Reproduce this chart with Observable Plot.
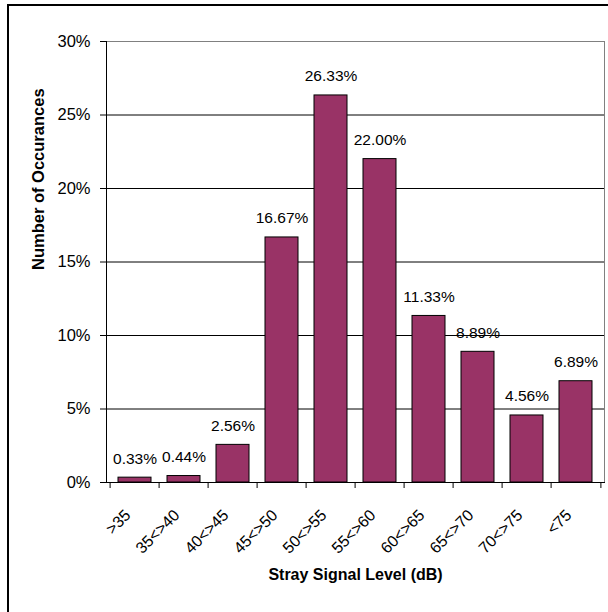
<!DOCTYPE html>
<html>
<head>
<meta charset="utf-8">
<script src="https://cdn.jsdelivr.net/npm/d3@7"></script>
<script src="https://cdn.jsdelivr.net/npm/@observablehq/plot@0.6"></script>
<style>
  html, body { margin: 0; padding: 0; background: #fff; overflow: hidden; }
  #chart { position: absolute; left: 0; top: 0; }
  #outer { position: absolute; left: 7px; top: 4px; width: 700px; height: 700px; border: 2px solid #000; pointer-events: none; }
</style>
</head>
<body>
<div id="chart"></div>
<div id="outer"></div>
<script>
const categories = [">35", "35<>40", "40<>45", "45<>50", "50<>55", "55<>60", "60<>65", "65<>70", "70<>75", "<75"];
const values = [0.33, 0.44, 2.56, 16.67, 26.33, 22.00, 11.33, 8.89, 4.56, 6.89];
const yTicks = [0, 5, 10, 15, 20, 25, 30];
const xTitle = "Stray Signal Level (dB)";
const yTitle = "Number of Occurances";

const data = categories.map((c, i) => ({category: c, value: values[i]}));

const W = 608, H = 612, mL = 106, mR = 4, mT = 41, mB = 130;
const step = (W - mL - mR) / categories.length;
const font = "'Liberation Sans', Arial, sans-serif";

const chart = Plot.plot({
  width: W, height: H,
  marginLeft: mL, marginRight: mR, marginTop: mT, marginBottom: mB,
  style: {fontFamily: font, fontSize: "16px", background: "transparent", color: "#000"},
  x: {domain: categories, paddingInner: 1/3, paddingOuter: 1/6, label: null},
  y: {domain: [0, 30], label: null},
  marks: [
    Plot.ruleY(yTicks.filter(d => d > 0), {stroke: "#000", strokeWidth: 1}),
    Plot.frame({stroke: "#808080"}),
    Plot.barY(data, {x: "category", y: "value", fill: "#993366", stroke: "#000", strokeWidth: 1}),
    Plot.text(data, {x: "category", y: "value", text: d => d.value.toFixed(2) + "%", lineAnchor: "bottom", dy: -14, fontSize: 15.5}),
    Plot.frame({anchor: "left", stroke: "#000"}),
    Plot.frame({anchor: "bottom", stroke: "#000"}),
    Plot.axisY({ticks: yTicks, tickFormat: d => d + "%", tickSize: 6, tickPadding: 10, label: null, fontSize: 16.5}),
    Plot.axisX({tickSize: 6, tickFormat: () => "", dx: -step / 2, label: null}),
    Plot.axisX({ticks: [categories[categories.length - 1]], tickSize: 6, tickFormat: () => "", dx: step / 2, label: null}),
    Plot.axisX({tickSize: 0, tickRotate: -45, tickPadding: 30, dx: -7, fontSize: 16, label: null}),
    Plot.text([xTitle], {frameAnchor: "bottom", dy: 97, text: d => d, fontWeight: "bold", fontSize: 16}),
    Plot.text([yTitle], {frameAnchor: "left", dx: -68, dy: 8, rotate: -90, text: d => d, fontWeight: "bold", fontSize: 16.5})
  ]
});
document.getElementById("chart").appendChild(chart);
</script>
</body>
</html>
